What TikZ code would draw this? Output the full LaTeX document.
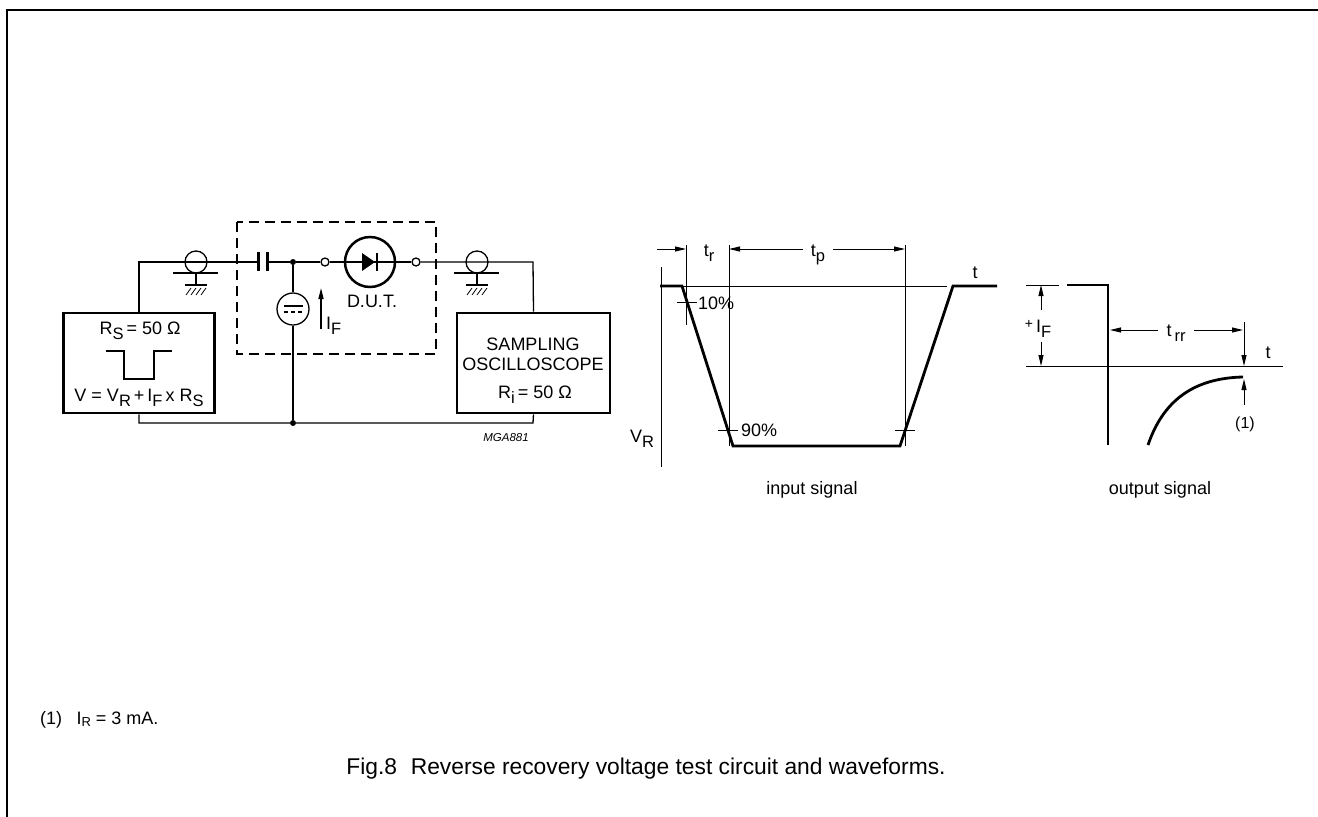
\documentclass[tikz,border=0pt]{standalone}
\usepackage{fontspec}
\setmainfont{Liberation Sans}
\usetikzlibrary{arrows.meta}
\newcommand\lowsub[1]{\raisebox{-0.6ex}{\fontsize{16.5}{16.5}\selectfont #1}}
\begin{document}
\begin{tikzpicture}[x=1pt,y=-1pt,
  wire/.style={line width=1.3pt},
  heavy/.style={line width=2.8pt},
  thinl/.style={line width=1pt},
  lbl/.style={font=\fontsize{18}{21}\selectfont, inner sep=0pt, anchor=base},
  small/.style={font=\fontsize{16}{18}\selectfont, inner sep=0pt, anchor=base},
  tip/.style={-{Triangle[length=11pt,width=5pt]}},
  box/.style={draw, line width=2.8pt, inner sep=0pt},
  ring/.style={circle, draw, wire, inner sep=0pt, fill=white},
  dot/.style={circle, fill, inner sep=0pt, minimum size=6pt}]
\useasboundingbox (0,0) rectangle (1318,817);
% frame
\draw[line width=2.5pt] (7,817) -- (7,10) -- (1318,10);

% ---------------- circuit ----------------
\coordinate (LT) at (139,262);
\coordinate (RT) at (533,262);
\coordinate (LB) at (139,423);
\coordinate (RB) at (533,423);
\coordinate (capL) at (258,262);
\coordinate (capR) at (267,262);
\node[box, minimum width=151pt, minimum height=100pt] (src) at (139,363) {};
\node[box, minimum width=153pt, minimum height=100pt] (osc) at (533.5,363) {};
\node[dot] (J1) at (293,262) {};
\node[dot] (J2) at (293,423) {};
\node[ring, minimum size=8pt] (o1) at (325,262) {};
\node[ring, minimum size=8pt] (o2) at (416,262) {};
\node[circle, draw, line width=2.5pt, minimum size=50pt, inner sep=0pt] (dut) at (370,262) {};
\node[circle, draw, wire, minimum size=32pt, inner sep=0pt] (cs) at (293,309) {};
% wires
\draw[wire] (src.north) -- (LT) -- (capL);
\draw[wire] (capR) -- (J1) -- (o1);
\draw[wire] (o1) -- (o2);
\draw[wire] (o2) -- (RT) -- (osc.north);
\draw[wire] (J1) -- (cs.north);
\draw[wire] (cs.south) -- (J2);
\draw[wire] (src.south) -- (LB) -- (J2) -- (RB) -- (osc.south);
% capacitor
\draw[line width=3pt] (258,252) -- (258,271);
\draw[line width=3pt] (267,252) -- (267,271);
% diode
\fill (362,253) -- (362,271) -- (375,262) -- cycle;
\draw[line width=2.8pt] (377,253) -- (377,271);
% current source inner lines
\draw[wire] (284,306) -- (303,306);
\draw[wire, dash pattern=on 4pt off 3pt] (284,312) -- (303,312);
% coax connectors
\foreach \cx/\nm in {196/cxa,477/cxb}{
  \node[circle, draw, wire, minimum size=22pt, inner sep=0pt] (\nm) at (\cx,262) {};
  \draw[wire] (\cx-23,273) -- (\cx+22,273);
  \draw[wire] (\cx,273) -- (\cx,285);
  \draw[line width=2.8pt] (\cx-11,285) -- (\cx+11,285);
  \foreach \h in {-10,-5,0,5}{\draw[line width=0.8pt] (\cx+\h,295) -- (\cx+\h+5,288);}
}
% dashed box
\draw[wire, dash pattern=on 10pt off 6pt] (237,222) rectangle (436,354);
% I_F arrow
\coordinate (ifa) at (321,329);
\coordinate (ifb) at (321,288);
\draw[wire, tip] (ifa) -- (ifb);
\node[lbl, anchor=base west] (lif) at (326,329) {I\lowsub{F}};
\node[lbl] (ldut) at (372,307) {D.U.T.};
% source box content
\node[lbl] (lrs) at (140,334) {R\lowsub{S}\,= 50 Ω};
\draw[line width=2.5pt] (106,351) -- (124,351) -- (124,379) -- (154,379) -- (154,351) -- (172,351);
\node[lbl] (lv) at (139,401) {V = V\lowsub{R}\,+\,I\lowsub{F}\,x R\lowsub{S}};
% oscilloscope content
\node[lbl] (ls1) at (533,350) {SAMPLING};
\node[lbl] (ls2) at (533,370) {OSCILLOSCOPE};
\node[lbl] (ls3) at (535,398) {R\lowsub{i}\,= 50 Ω};
\node[font=\fontsize{11.5}{13}\selectfont\itshape, inner sep=0pt] (lmga) at (506,438) {MGA881};

% ---------------- input signal ----------------
\coordinate (a0) at (660,286);
\coordinate (a1) at (682,286);
\coordinate (a2) at (733,446);
\coordinate (a3) at (900,446);
\coordinate (a4) at (953,286);
\coordinate (a5) at (997,286);
\draw[thinl] (683,286) -- (947,286);
\draw[thinl] (661,267) -- (661,467);
\draw[thinl] (686,245) -- (686,325);
\draw[thinl] (729,245) -- (729,446);
\draw[thinl] (905,245) -- (905,446);
\draw[heavy, line join=miter] (a0) -- (a1) -- (a2) -- (a3) -- (a4) -- (a5);
\draw[thinl, tip] (657,249) -- (686,249);
\node[lbl] (ltr) at (709,256) {t\lowsub{r}};
\draw[thinl, tip] (803,249) -- (729,249);
\node[lbl] (ltp) at (818,256) {t\lowsub{p}};
\draw[thinl, tip] (833,249) -- (905,249);
\draw[thinl] (677,302) -- (697,302);
\draw[thinl] (718,430) -- (738,430);
\draw[thinl] (895,430) -- (915,430);
\node[lbl, anchor=base west] (l10) at (698,309) {10\%};
\node[lbl, anchor=base west] (l90) at (741,436) {90\%};
\node[lbl] (lt1) at (975,278) {t};
\node[lbl] (lvr) at (642,442) {V\lowsub{R}};
\node[lbl] (lin) at (812,494) {input signal};

% ---------------- output signal ----------------
\draw[thinl] (1026,366) -- (1283,366);
\draw[thinl] (1026,285) -- (1059,285);
\draw[heavy, line join=miter] (1067,285) -- (1108,285) -- (1108,445);
\draw[thinl, tip] (1041,310) -- (1041,285);
\draw[thinl, tip] (1041,342) -- (1041,366);
\node[lbl] (lif2) at (1038,332) {{\fontsize{14}{14}\selectfont\raisebox{0.5ex}{+}}\,I\lowsub{F}};
\draw[thinl, tip] (1158,330) -- (1110,330);
\node[lbl] (ltrr) at (1176,336) {t\,\lowsub{rr}};
\draw[thinl, tip] (1194,330) -- (1243,330);
\draw[thinl, tip] (1244,322) -- (1244,366);
\node[lbl] (lt2) at (1268,358) {t};
\draw[heavy] (1148,445) .. controls (1165,395) and (1200,378) .. (1243,377);
\draw[thinl, tip] (1244,405) -- (1244,379);
\node[small] (l1) at (1245,428) {(1)};
\node[lbl] (lout) at (1160,494) {output signal};

% ---------------- notes ----------------
\node[lbl, anchor=base west] (fn) at (40,724) {(1)\hspace{0.8em}I{\fontsize{13}{13}\selectfont\raisebox{-0.4ex}{R}} = 3 mA.};
\node[font=\fontsize{22.8}{26}\selectfont, inner sep=0pt] (cap) at (646,769) {Fig.8\hspace{0.6em}Reverse recovery voltage test circuit and waveforms.};
\end{tikzpicture}
\end{document}
